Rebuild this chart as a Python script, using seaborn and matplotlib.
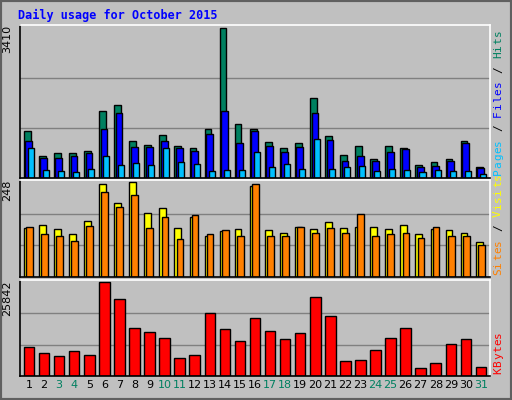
import numpy as np
import pandas as pd
import seaborn as sns
import matplotlib
matplotlib.use("Agg")
import matplotlib.pyplot as plt

days = list(range(1, 32))
weekend = [3, 4, 10, 11, 17, 18, 24, 25, 31]
hits = [1067,510,557,557,603,1531,1670,835,742,974,719,673,1113,3410,1229,1113,812,673,789,1809,951,534,719,441,719,673,302,371,441,835,255]
files = [835,464,464,510,557,1113,1485,696,696,835,673,603,997,1531,789,1067,719,580,696,1485,858,394,510,394,580,650,255,278,394,789,232]
pages = [673,186,162,139,209,510,302,348,302,673,371,325,162,186,186,580,255,325,209,881,209,255,278,162,209,186,139,186,162,162,93]
visits = [127,135,124,111,146,243,194,248,167,181,127,157,106,119,124,237,122,114,130,124,143,127,130,130,124,135,111,124,122,114,90]
sites = [130,111,106,95,132,221,183,213,127,157,98,162,111,122,106,243,106,106,130,116,127,114,165,106,111,114,103,130,106,106,84]
kbytes = [8016,6318,5469,6884,5752,25842,21029,13108,11976,10562,4904,5752,17351,12825,9713,15937,12259,10279,11693,21595,16503,4055,4338,7167,10562,13108,2075,3489,8864,10279,2358]

sns.set_style("white")
plt.rcParams['font.family'] = ['DejaVu Sans Mono', 'DejaVu Sans']
BG = "#c0c0c0"
fig = plt.figure(figsize=(5.12, 4.0), dpi=100, facecolor=BG)
fig.patches.append(plt.Rectangle((0, 0), 1, 1, transform=fig.transFigure, fill=False,
                                 edgecolor="#606060", lw=3))
fig.text(0.035, 0.962, "Daily usage for October 2015", color="#0000ff", fontsize=8.5,
         fontweight="bold", ha="left", va="center")

x = np.array(days, dtype=float)
L, W = 0.039, 0.918
ax1 = fig.add_axes([L, 0.555, W, 0.3825])
ax2 = fig.add_axes([L, 0.3075, W, 0.2425])
ax3 = fig.add_axes([L, 0.06, W, 0.24])

def style(ax, ymax, label):
    ax.set_facecolor(BG)
    ax.set_xlim(0.4, 31.6)
    ax.set_ylim(0, ymax * 1.02)
    for f in (1/3, 2/3):
        ax.axhline(ymax * f, color="#808080", lw=1, zorder=0)
    ax.set_yticks([])
    for s in ("left", "bottom"):
        ax.spines[s].set_color("black"); ax.spines[s].set_linewidth(1.2)
    for s in ("right", "top"):
        ax.spines[s].set_color("white"); ax.spines[s].set_linewidth(1.2)
    ax.text(-0.028, 1.0, label, transform=ax.transAxes, rotation=90, ha="center",
            va="top", fontsize=8, color="black", family="DejaVu Sans")

def rlabel(ax, parts):
    h = ax.get_position().height * 400
    step = 7.3 / h
    pos = 0.02
    for txt, col in parts:
        for ch in txt:
            if ch != " ":
                ax.text(1.017, pos, ch, transform=ax.transAxes, rotation=90, ha="center",
                        va="bottom", fontsize=8, color=col)
            pos += step

def draw(ax, series):
    for vals, off, w, col in series:
        df = pd.DataFrame({"x": x + off, "y": vals})
        ax.bar(df["x"], df["y"], width=w, color=col, edgecolor="black", linewidth=1, align="center")
    ax.set_xticks([])

draw(ax1, [(hits, -0.12, 0.45, "#008060"), (files, -0.02, 0.45, "#0000ff"), (pages, 0.12, 0.4, "#00c0ff")])
style(ax1, 3410, "3410")
rlabel(ax1, [("Pages", "#00c0ff"), (" / ", "black"), ("Files", "#0000ff"), (" / ", "black"), ("Hits", "#008060")])
draw(ax2, [(visits, -0.12, 0.45, "#ffff00"), (sites, 0.02, 0.45, "#ff8000")])
style(ax2, 248, "248")
rlabel(ax2, [("Sites", "#ff8000"), (" / ", "black"), ("Visits", "#ffff00")])

df3 = pd.DataFrame({"day": x, "kb": kbytes})
sns.barplot(data=df3, x="day", y="kb", native_scale=True, color="#ff0000", saturation=1,
            edgecolor="black", linewidth=1, width=0.7, ax=ax3)
style(ax3, 25842, "25842")
ax3.set_ylabel(""); ax3.set_xlabel("")
ax3.set_xticks(days)
ax3.set_xticklabels([str(d) for d in days], fontsize=8, family="DejaVu Sans")
for t, d in zip(ax3.get_xticklabels(), days):
    t.set_color("#008060" if d in weekend else "black")
ax3.tick_params(axis="x", length=0, pad=3)
rlabel(ax3, [("KBytes", "#ff0000")])

fig.savefig("out.png", dpi=100, facecolor=BG)
